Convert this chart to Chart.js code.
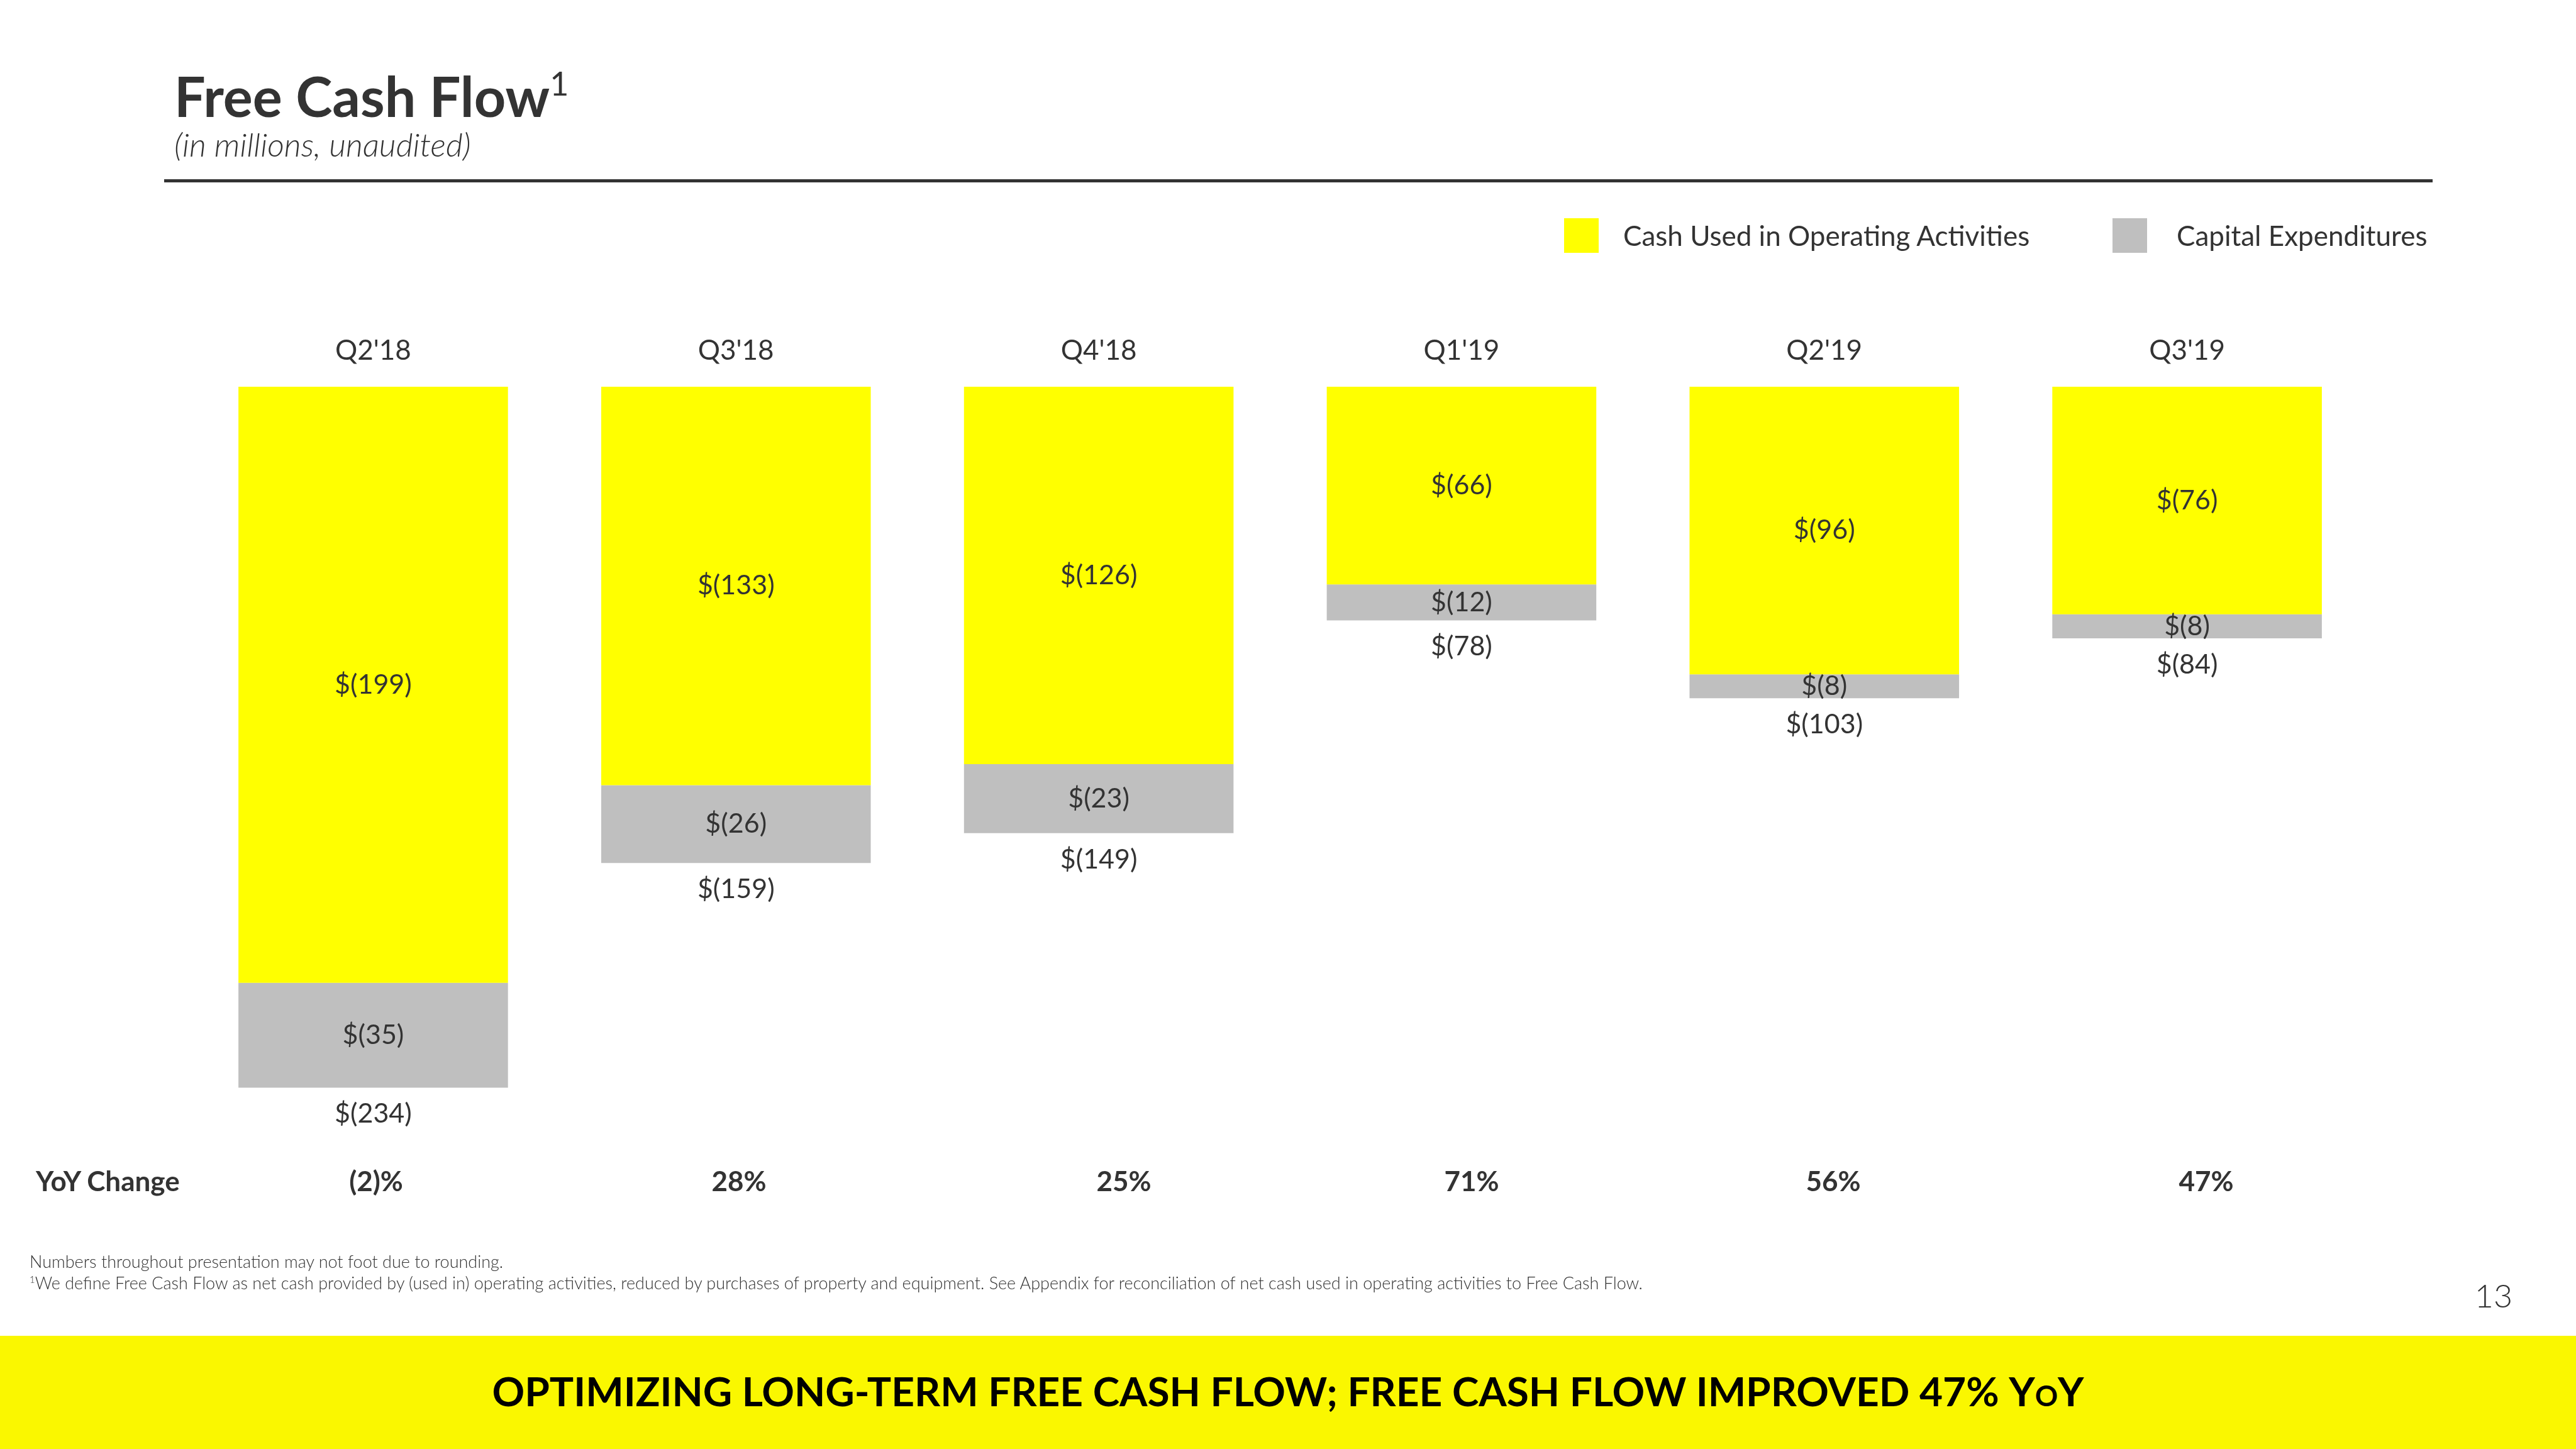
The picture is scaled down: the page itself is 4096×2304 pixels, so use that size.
<!DOCTYPE html>
<html>
<head>
<meta charset="utf-8">
<title>Free Cash Flow</title>
<script src="https://cdn.jsdelivr.net/npm/chart.js@4.4.0/dist/chart.umd.min.js"></script>
<style>
  html, body { margin: 0; padding: 0; background: #fff; }
  #page { position: relative; width: 4096px; height: 2304px; overflow: hidden; font-family: Lato, 'Noto Sans', sans-serif; color: #333; }
  #chart { position: absolute; left: 0; top: 0; }
  .abs { position: absolute; white-space: nowrap; line-height: 1; }
  #title { left: 277px; top: 108px; font-size: 88px; font-weight: 700; }
  #title sup { font-size: 52px; font-weight: 400; position: relative; top: -4px; }
  #subtitle { left: 277px; top: 203px; font-size: 52px; font-style: italic; font-weight: 300; }
  #rule { position: absolute; left: 261px; top: 285px; width: 3607px; height: 5px; background: #333; }
  .swatch { position: absolute; width: 55px; height: 55px; top: 347px; }
  .legend-text { top: 352px; font-size: 44px; font-weight: 400; }
  #yoyTitle { left: 57px; top: 1855px; font-size: 44px; font-weight: 700; }
  .yoy { top: 1855px; font-size: 44px; font-weight: 700; transform: translateX(-50%); }
  .foot { left: 47px; font-size: 27px; font-weight: 300; }
  #pageNum { left: 3965px; top: 2033px; font-size: 52px; font-weight: 300; transform: translateX(-50%); }
  #banner { position: absolute; left: 0; top: 2124px; width: 4096px; height: 180px; background: #faf700; }
  #bannerText { position: absolute; left: 0; width: 4096px; top: 2173px; text-align: center; font-size: 64px; font-weight: 700; color: #000; }
</style>
</head>
<body>
<div id="page">
  <canvas id="chart" width="4096" height="2304"></canvas>
  <div class="abs" id="title">Free Cash Flow<sup>1</sup></div>
  <div class="abs" id="subtitle">(in millions, unaudited)</div>
  <div id="rule"></div>
  <div id="legend"></div>
  <div class="abs" id="yoyTitle">YoY Change</div>
  <div id="yoyRow"></div>
  <div class="abs foot" style="top:1992px">Numbers throughout presentation may not foot due to rounding.</div>
  <div class="abs foot" style="top:2026px"><sup style="font-size:15px">1</sup>We define Free Cash Flow as net cash provided by (used in) operating activities, reduced by purchases of property and equipment. See Appendix for reconciliation of net cash used in operating activities to Free Cash Flow.</div>
  <div class="abs" id="pageNum">13</div>
  <div id="banner"></div>
  <div id="bannerText">OPTIMIZING LONG-TERM FREE CASH FLOW; FREE CASH FLOW IMPROVED 47% <span style="font-variant:small-caps">YoY</span></div>
</div>
<script>
const quarters = ["Q2'18", "Q3'18", "Q4'18", "Q1'19", "Q2'19", "Q3'19"];
const opCash = [-199, -133, -126, -66, -96, -76];
const capex = [-35, -26, -23, -12, -8, -8];
const freeCashFlow = [-234, -159, -149, -78, -103, -84];
const yoyChange = ['(2)%', '28%', '25%', '71%', '56%', '47%'];
const seriesNames = ['Cash Used in Operating Activities', 'Capital Expenditures'];

const YELLOW = '#ffff00';
const GREY = '#bfbfbf';
const FONT = 'Lato, "Noto Sans", sans-serif';

// where the YoY figures sit in the slide (px centres)
const yoyX = [598, 1175, 1787, 2340, 2915, 3508];

function money(v) {
    return v < 0 ? '$(' + Math.abs(v) + ')' : '$' + v;
}

// legend
const legend = document.getElementById('legend');
const legendX = [[2487, 2581], [3359, 3461]];
[YELLOW, GREY].forEach((col, i) => {
    const sw = document.createElement('div');
    sw.className = 'swatch';
    sw.style.left = legendX[i][0] + 'px';
    sw.style.background = col;
    legend.appendChild(sw);
    const t = document.createElement('div');
    t.className = 'abs legend-text';
    t.style.left = legendX[i][1] + 'px';
    t.textContent = seriesNames[i];
    legend.appendChild(t);
});

// YoY row
const yoyRow = document.getElementById('yoyRow');
yoyChange.forEach((txt, i) => {
    const s = document.createElement('div');
    s.className = 'abs yoy';
    s.style.left = yoyX[i] + 'px';
    s.textContent = txt;
    yoyRow.appendChild(s);
});

// value labels on the bars
const barLabels = {
    id: 'barLabels',
    afterDatasetsDraw(chart) {
        const ctx = chart.ctx;
        const opBars = chart.getDatasetMeta(0).data;
        const cxBars = chart.getDatasetMeta(1).data;
        ctx.save();
        ctx.font = '400 43px ' + FONT;
        ctx.fillStyle = '#333';
        ctx.textAlign = 'center';
        ctx.textBaseline = 'middle';
        opBars.forEach((bar, i) => {
            ctx.fillText(money(opCash[i]), bar.x, (bar.y + bar.base) / 2);
            const g = cxBars[i];
            ctx.fillText(money(capex[i]), g.x, (g.y + g.base) / 2);
            ctx.fillText(money(freeCashFlow[i]), g.x, Math.max(g.y, g.base) + 42);
        });
        ctx.restore();
    }
};

new Chart(document.getElementById('chart'), {
    type: 'bar',
    data: {
        labels: quarters,
        datasets: [
            { label: seriesNames[0], data: opCash, backgroundColor: YELLOW },
            { label: seriesNames[1], data: capex, backgroundColor: GREY }
        ]
    },
    options: {
        responsive: false,
        animation: false,
        devicePixelRatio: 1,
        layout: { padding: { left: 305, right: 330, top: 500, bottom: 260 } },
        datasets: { bar: { categoryPercentage: 1, barPercentage: 0.743 } },
        plugins: { legend: { display: false }, tooltip: { enabled: false } },
        scales: {
            x: {
                stacked: true,
                position: 'top',
                grid: { display: false, drawTicks: false },
                border: { display: false },
                ticks: { color: '#333', font: { family: FONT, size: 44, weight: '400' }, padding: 31 }
            },
            y: { stacked: true, display: false, min: -300, max: 0 }
        }
    },
    plugins: [barLabels]
});
</script>
</body>
</html>
